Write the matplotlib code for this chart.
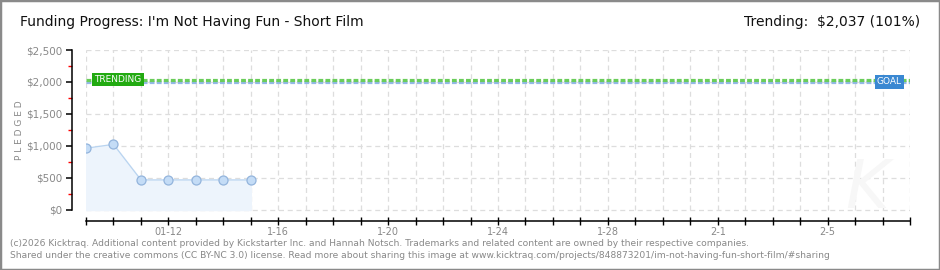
import matplotlib
matplotlib.use('Agg')
import matplotlib.pyplot as plt
from matplotlib.patches import Rectangle

# data
days = [0, 1, 2, 3, 4, 5, 6]            # days since 01-09
pledged = [965, 1026, 470, 470, 470, 470, 470]
goal = 2000
trending = 2037
n_days = 30
tick_pos = [3, 7, 11, 15, 19, 23, 27]
tick_labels = ['01-12', '1-16', '1-20', '1-24', '1-28', '2-1', '2-5']
y_major = [0, 500, 1000, 1500, 2000, 2500]
y_labels = ['$0', '$500', '$1,000', '$1,500', '$2,000', '$2,500']
y_minor = [250, 750, 1250, 1750, 2250]

GRAY = '#888888'
plt.rcParams['font.family'] = 'DejaVu Sans'

fig = plt.figure(figsize=(9.4, 2.7), dpi=100)
fig.patches.append(Rectangle((0, 0), 1, 1, transform=fig.transFigure,
                             fill=False, ec='#8a8a8a', lw=2.5))

ax = fig.add_axes([86 / 940, 1 - 221 / 270, 824 / 940, 171 / 270])
ax.set_xlim(0, n_days)
ax.set_ylim(-172, 2500)

# grid
for y in y_major:
    ax.hlines(y, 0, n_days, colors='#dddddd', linestyles=(0, (4, 3)), lw=0.9, zorder=0)
ax.vlines(range(n_days + 1), 0, 2500, colors='#dddddd',
          linestyles=(0, (4, 3)), lw=0.9, zorder=0)

# goal / trending lines (blue below, green above, same dash pattern)
ax.plot([0, n_days], [goal, goal], color='#93b8e8', lw=2.3,
        dashes=(1.5, 0.7), solid_capstyle='butt', zorder=2)
ax.plot([0, n_days], [trending, trending], color='#6acd5a', lw=2.3,
        dashes=(1.5, 0.7), solid_capstyle='butt', zorder=2)

# labels on lines
ax.text(0.3, trending, 'TRENDING', color='white', fontsize=6.5, va='center',
        ha='left', zorder=5,
        bbox=dict(boxstyle='square,pad=0.25', fc='#22aa11', ec='none'))
ax.text(29.7, goal, 'GOAL', color='white', fontsize=6.5, va='center',
        ha='right', zorder=5,
        bbox=dict(boxstyle='square,pad=0.25', fc='#3a88d2', ec='none'))

# pledged series
ax.fill_between(days, pledged, 0, color='#edf4fc', zorder=1)
ax.plot(days, pledged, color='#b9d4f0', lw=0.9, zorder=3)
ax.plot(days, pledged, 'o', ms=6.5, mfc='#c4dcf6', mec='#93b4dc', mew=0.9, zorder=4)

# spines & ticks
for s in ['top', 'right']:
    ax.spines[s].set_visible(False)
ax.spines['left'].set_position(('outward', 10))
ax.spines['left'].set_bounds(0, 2500)
ax.spines['left'].set_linewidth(1.1)
ax.spines['bottom'].set_linewidth(1.1)

ax.set_yticks(y_major)
ax.set_yticklabels(y_labels)
ax.set_yticks(y_minor, minor=True)
ax.tick_params(axis='y', which='major', length=4, width=1.1, colors='black',
               labelcolor=GRAY, labelsize=7.5, pad=3)
ax.tick_params(axis='y', which='minor', length=3, width=1, colors='red')

ax.set_xticks(range(n_days + 1))
ax.set_xticklabels(['' for _ in range(n_days + 1)])
ax.tick_params(axis='x', direction='inout', length=6, width=1.0)
for p, lab in zip(tick_pos, tick_labels):
    ax.annotate(lab, (p, -172), xytext=(0, -4), textcoords='offset points',
                ha='center', va='top', color=GRAY, fontsize=7)

fig.text(20 / 940, 1 - 130 / 270, 'P L E D G E D', color=GRAY, fontsize=6.5,
         rotation=90, ha='center', va='center')

# watermark
fig.text(0.922, 0.30, 'K', fontsize=48, color='#f7f7f7', style='italic',
         ha='center', va='center', zorder=0)

# titles
fig.text(20 / 940, 1 - 22 / 270, "Funding Progress: I'm Not Having Fun - Short Film",
         fontsize=10, va='center', ha='left', color='#111111')
fig.text(920 / 940, 1 - 22 / 270, 'Trending:  $2,037 (101%)',
         fontsize=10, va='center', ha='right', color='#111111')

fig.text(10 / 940, 1 - 243 / 270,
         '(c)2026 Kicktraq. Additional content provided by Kickstarter Inc. and Hannah Notsch. '
         'Trademarks and related content are owned by their respective companies.',
         fontsize=6.6, color=GRAY, va='center', ha='left')
fig.text(10 / 940, 1 - 256 / 270,
         'Shared under the creative commons (CC BY-NC 3.0) license. Read more about sharing this image at '
         'www.kicktraq.com/projects/848873201/im-not-having-fun-short-film/#sharing',
         fontsize=6.6, color=GRAY, va='center', ha='left')

fig.savefig('out.png', dpi=100)
